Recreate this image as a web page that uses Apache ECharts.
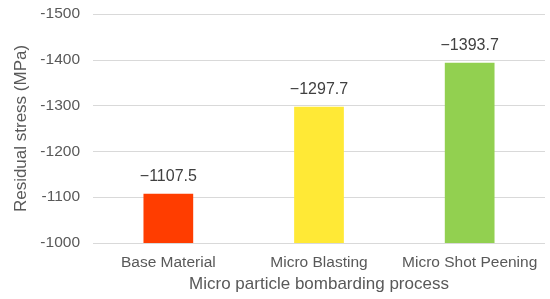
<!DOCTYPE html>
<html>
<head>
<meta charset="utf-8">
<script src="https://cdn.jsdelivr.net/npm/echarts@6/dist/echarts.min.js"></script>
<style>
  html, body { margin: 0; padding: 0; background: #fff; }
  #chart { width: 550px; height: 299px; }
</style>
</head>
<body>
<div id="chart"></div>
<script>
  var categories = ['Base Material', 'Micro Blasting', 'Micro Shot Peening'];
  var stressValues = [-1107.5, -1297.7, -1393.7];
  var barColors = ['#FF3D00', '#FFE936', '#92D050'];

  var myChart = echarts.init(document.getElementById('chart'));
  myChart.setOption({
    animation: false,
    textStyle: { fontFamily: 'Liberation Sans, Arial, sans-serif' },
    grid: { left: 93, right: 5, top: 14, bottom: 56 },
    xAxis: {
      type: 'category',
      data: categories,
      name: 'Micro particle bombarding process',
      nameLocation: 'middle',
      nameGap: 33,
      nameTextStyle: { fontSize: 17, color: '#595959' },
      axisLine: { show: false },
      axisTick: { show: false },
      axisLabel: { fontSize: 15.5, color: '#595959', margin: 12, interval: 0, hideOverlap: false }
    },
    yAxis: {
      type: 'value',
      inverse: true,
      min: -1500,
      max: -1000,
      interval: 100,
      name: 'Residual stress (MPa)',
      nameLocation: 'middle',
      nameGap: 63,
      nameTextStyle: { fontSize: 17, color: '#595959' },
      axisLabel: {
        fontSize: 15.5,
        color: '#595959',
        margin: 13,
        formatter: function (v) { return String(v); }
      },
      axisLine: { show: false },
      axisTick: { show: false },
      splitLine: { lineStyle: { color: '#d9d9d9', width: 1 } }
    },
    series: [{
      type: 'bar',
      barWidth: '33%',
      data: stressValues.map(function (v, i) {
        return { value: v, itemStyle: { color: barColors[i] } };
      }),
      label: {
        show: true,
        position: 'top',
        distance: 9,
        fontSize: 16,
        color: '#404040',
        formatter: function (p) {
          return '\u2212' + Math.abs(p.value).toFixed(1);
        }
      }
    }]
  });
</script>
</body>
</html>
